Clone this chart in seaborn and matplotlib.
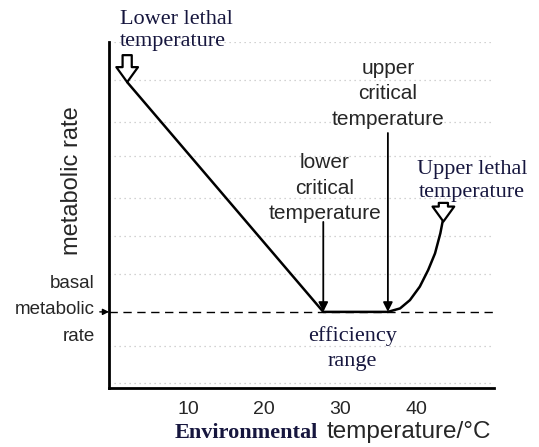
import matplotlib
matplotlib.use('Agg')
import matplotlib.pyplot as plt
import seaborn as sns

# Metabolic rate curve (arbitrary units) against environmental temperature
temp = [2.0, 27.8, 36.3, 37.9, 39.2, 40.5, 41.6, 42.5, 43.2, 43.5]
rate = [88.4, 22.0, 22.0, 23.0, 25.4, 29.3, 34.1, 38.9, 44.7, 48.1]

basal_rate = 22.0
lower_critical = 27.8
upper_critical = 36.3
lower_lethal = (2.0, 88.4)
upper_lethal = (43.5, 48.1)

x_ticks = [10, 20, 30, 40]
grid_levels = [100, 89, 77, 67, 55, 44, 33, 12, 1.5]

sns.set_style('white')
plt.rcParams['font.family'] = ['Liberation Sans', 'DejaVu Sans']

W, H = 539, 447
fig = plt.figure(figsize=(W / 100, H / 100), dpi=100)
ax = fig.add_axes([109 / W, 1 - 388 / H, (494 - 109) / W, (388 - 42) / H])

navy = '#16163e'

# faint dotted background grid
for g in grid_levels:
    ax.axhline(g, color='#c4c4c4', lw=0.9, ls=(0, (1, 3)), zorder=0)

sns.lineplot(x=temp, y=rate, sort=False, color='black', linewidth=1.8, ax=ax)

# basal metabolic rate dashed line
ax.axhline(basal_rate, color='black', lw=1.0, ls=(0, (6, 4)), zorder=1)

# critical temperature arrows
ax.annotate('', xy=(lower_critical, basal_rate), xytext=(lower_critical, 48),
            arrowprops=dict(arrowstyle='-|>', color='black', lw=1.3, mutation_scale=14, shrinkA=0, shrinkB=0))
ax.annotate('', xy=(upper_critical, basal_rate), xytext=(upper_critical, 73.7),
            arrowprops=dict(arrowstyle='-|>', color='black', lw=1.3, mutation_scale=14, shrinkA=0, shrinkB=0))

# hollow lethal-temperature arrows
hollow = dict(arrowstyle='simple,head_width=1.3,head_length=0.9,tail_width=0.55',
              fc='white', ec='black', lw=1.6, mutation_scale=12, shrinkA=0, shrinkB=0)
ax.annotate('', xy=lower_lethal, xytext=(lower_lethal[0], 96.2), arrowprops=hollow,
            annotation_clip=False)
ax.annotate('', xy=(upper_lethal[0] + 0.1, upper_lethal[1]), xytext=(upper_lethal[0] + 0.1, 53.5),
            arrowprops=hollow)

ax.set_xlim(-0.39, 50.26)
ax.set_ylim(0, 100)
ax.set_xticks(x_ticks)
ax.set_xticklabels([str(t) for t in x_ticks], fontsize=14)
ax.set_yticks([])
ax.tick_params(axis='x', length=0, pad=9)
for side in ['top', 'right']:
    ax.spines[side].set_visible(False)
for side in ['left', 'bottom']:
    ax.spines[side].set_color('black')
    ax.spines[side].set_linewidth(2)

fig.text(72 / W, 1 - 181 / H, 'metabolic rate', fontsize=17, rotation=90,
         ha='center', va='center')

# annotations
ax.text(1.0, 109.2, 'Lower lethal\ntemperature', family='Liberation Serif', fontsize=16,
        color=navy, ha='left', va='top', linespacing=1.17, clip_on=False)
ax.text(upper_critical, 74.8, 'upper\ncritical\ntemperature', fontsize=15, ha='center',
        va='bottom', linespacing=1.45)
ax.text(28.0, 47.6, 'lower\ncritical\ntemperature', fontsize=15, ha='center',
        va='bottom', linespacing=1.45)
ax.text(47.4, 53.8, 'Upper lethal\ntemperature', family='Liberation Serif', fontsize=16,
        color=navy, ha='center', va='bottom', linespacing=1.25)
ax.text(31.6, 17.9, 'efficiency\nrange', family='Liberation Serif', fontsize=16,
        color=navy, ha='center', va='top', linespacing=1.4)

fig.text(95 / W, 1 - 310 / H, 'basal\nmetabolic\nrate', fontsize=13.5, ha='right', va='center',
         linespacing=1.75)
ax.annotate('', xy=(-0.39, basal_rate), xytext=(-1.6, basal_rate),
            arrowprops=dict(arrowstyle='-|>', color='black', lw=1.0, mutation_scale=9,
                            shrinkA=0, shrinkB=0), annotation_clip=False)

fig.text(175 / W, 1 - 438 / H, 'Environmental', family='Liberation Serif', fontsize=16,
         fontweight='bold', color=navy, ha='left', va='baseline')
fig.text(327 / W, 1 - 438 / H, 'temperature/°C', fontsize=17.5, ha='left', va='baseline')

fig.savefig('out.png', dpi=100)
